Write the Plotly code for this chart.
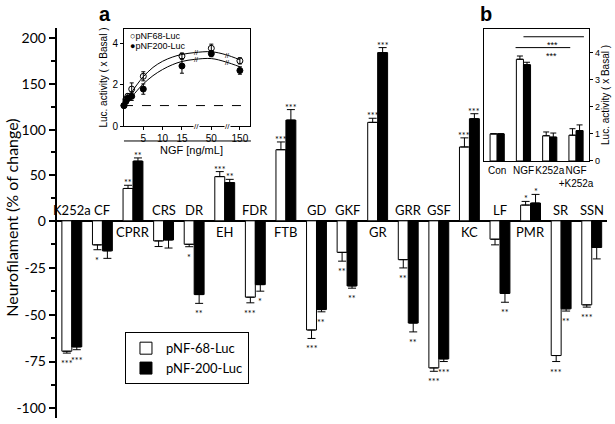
import numpy as np
import plotly.graph_objects as go

# ---------------- main panel data ----------------
categories = ["K252a", "CF", "CPRR", "CRS", "DR", "EH", "FDR", "FTB", "GD", "GKF",
              "GR", "GRR", "GSF", "KC", "LF", "PMR", "SR", "SSN"]
nf68 = [-69.5, -12.8, 35.5, -10.7, -12.5, 48.5, -40.7, 78, -58.2, -16.8,
        108, -20.7, -78.4, 81, -9.8, 17.3, -71.8, -44.8]
nf68_err = [1.0, 2.6, 3.5, 3.0, 1.3, 5.5, 3.0, 8.5, 4.5, 4.7,
            4.5, 4.4, 1.8, 10, 3.0, 4.0, 3.2, 1.2]
nf200 = [-67.2, -16, 65.5, -10.2, -39.3, 42, -34, 110.5, -47.3, -34.7,
         184.5, -54.5, -73.6, 112, -38.7, 19.5, -46.9, -14.2]
nf200_err = [1.5, 4, 3.5, 4.3, 4.7, 3.5, 3.5, 11.5, 1.2, 1.2,
             5.5, 4.7, 1.4, 5.5, 4.7, 9.5, 1.2, 6.1]
nf68_sig = ["***", "*", "**", "", "*", "***", "***", "***", "***", "**",
            "***", "**", "***", "***", "", "*", "***", "***"]
nf200_sig = ["***", "", "**", "", "**", "**", "*", "***", "**", "**",
             "***", "**", "***", "***", "**", "*", "**", ""]
main_major_ticks = [200, 150, 100, 50, 0, -25, -50, -75, -100]
main_minor_ticks = [175, 125, 75, 25, -12.5, -37.5, -62.5, -87.5]

# ---------------- inset a data ----------------
ngf_dose = [0, 0.5, 1, 2, 5, 15, 50, 150]
a68 = [1.0, 1.3, 1.45, 1.8, 2.42, 3.4, 3.78, 3.17]
a68_err = [0, 0.1, 0.12, 0.3, 0.22, 0.15, 0.2, 0.15]
a200 = [1.0, 1.2, 1.35, 1.45, 1.8, 2.92, 3.52, 2.7]
a200_err = [0, 0.1, 0.12, 0.2, 0.25, 0.35, 0.15, 0.18]
fit_dose = [0, 1, 2, 3.5, 5, 7.5, 10, 12.5, 15, 30, 50, 100, 150]
fit68 = [1.0, 1.35, 1.65, 2.05, 2.4, 2.85, 3.15, 3.35, 3.48, 3.57, 3.61, 3.47, 3.22]
fit200 = [1.0, 1.2, 1.42, 1.75, 2.05, 2.45, 2.75, 2.98, 3.14, 3.24, 3.28, 3.12, 2.88]
ngf_ticks = [5, 10, 15, 50, 150]
ngf_breaks = [32, 105]

# ---------------- inset b data ----------------
b_cats = ["Con", "NGF", "K252a", "NGF<br>+K252a"]
b68 = [1.0, 3.75, 0.93, 0.95]
b68_err = [0.0, 0.12, 0.14, 0.24]
b200 = [1.0, 3.55, 0.88, 1.12]
b200_err = [0.0, 0.09, 0.15, 0.21]
b_sig = [(1.0, 3.3, 4.58, 2.12), (0.7, 2.78, 4.18, 2.05)]  # (from, to, level, star pos)

# ---------------- scales ----------------
POS_SCALE = 0.486  # positive half of main axis is compressed


def sy(v):
    return v * POS_SCALE if v > 0 else v


# broken NGF axis: dose -> axis position
ngf_anchor_dose = [0, 15, 50, 150]
ngf_anchor_pos = [0, 15, 22.6, 30]


def ngf_pos(d):
    return float(np.interp(d, ngf_anchor_dose, ngf_anchor_pos))


MAIN_FONT = "Lato"
INSET_FONT = "Liberation Sans"

fig = go.Figure()
idx = list(range(len(categories)))
GROUP_HALF = 0.1625


def bar_trace(vals, errs, name, color):
    return go.Bar(
        x=idx, y=[sy(v) for v in vals], name=name,
        marker=dict(color=color, line=dict(color="black", width=1)),
        error_y=dict(type="data", symmetric=False,
                     array=[e * POS_SCALE if v > 0 else 0 for v, e in zip(vals, errs)],
                     arrayminus=[0 if v > 0 else e for v, e in zip(vals, errs)],
                     color="black", thickness=1, width=4),
        xaxis="x", yaxis="y")


fig.add_trace(bar_trace(nf68, nf68_err, "pNF-68-Luc", "white"))
fig.add_trace(bar_trace(nf200, nf200_err, "pNF-200-Luc", "black"))

annotations = []
for vals, errs, sigs, off in [(nf68, nf68_err, nf68_sig, -GROUP_HALF),
                              (nf200, nf200_err, nf200_sig, GROUP_HALF)]:
    for i, (v, e, s) in enumerate(zip(vals, errs, sigs)):
        if not s:
            continue
        if v > 0:
            annotations.append(dict(x=i + off, y=sy(v + e), xref="x", yref="y", text=s,
                                    showarrow=False, yanchor="bottom", yshift=-5,
                                    font=dict(family=MAIN_FONT, size=9, color="black")))
        else:
            annotations.append(dict(x=i + off, y=v - e, xref="x", yref="y", text=s,
                                    showarrow=False, yanchor="top", yshift=-3,
                                    font=dict(family=MAIN_FONT, size=9, color="black")))

# category labels next to zero line
for i, (c, v1, v2) in enumerate(zip(categories, nf68, nf200)):
    neg = (v1 + v2) < 0
    annotations.append(dict(x=i, y=0, xref="x", yref="y", text=c, showarrow=False,
                            yshift=11 if neg else -11,
                            font=dict(family=MAIN_FONT, size=13, color="black")))

# ---------------- inset a traces ----------------
for vals, errs, sym, name in [(a68, a68_err, "circle-open", "pNF68-Luc"),
                              (a200, a200_err, "circle", "pNF200-Luc")]:
    fig.add_trace(go.Scatter(
        x=[ngf_pos(d) for d in ngf_dose], y=vals, mode="markers", showlegend=False,
        marker=dict(symbol=sym, size=6, color="black", line=dict(color="black", width=1)),
        error_y=dict(type="data", array=errs, color="black", thickness=1, width=2),
        cliponaxis=False, xaxis="x2", yaxis="y2"))
for fit in [fit68, fit200]:
    fig.add_trace(go.Scatter(
        x=[ngf_pos(d) for d in fit_dose], y=fit, mode="lines", showlegend=False,
        line=dict(color="black", width=1, shape="spline"), xaxis="x2", yaxis="y2"))

for bd in ngf_breaks:
    bx = ngf_pos(bd)
    for fit in [fit68, fit200]:
        annotations.append(dict(x=bx, y=float(np.interp(bd, fit_dose, fit)), xref="x2", yref="y2",
                                text="//", showarrow=False, borderpad=0,
                                font=dict(family=INSET_FONT, size=7, color="black")))
    annotations.append(dict(x=bx, y=0, xref="x2", yref="y2", text="//", showarrow=False,
                            font=dict(family=INSET_FONT, size=8, color="black"), bgcolor="white",
                            borderpad=0))

# ---------------- inset b traces ----------------
BW = 0.27
for vals, errs, color, off in [(b68, b68_err, "white", -BW), (b200, b200_err, "black", 0)]:
    fig.add_trace(go.Bar(
        x=list(range(len(b_cats))), y=vals, width=BW, offset=off, showlegend=False,
        marker=dict(color=color, line=dict(color="black", width=1)),
        error_y=dict(type="data", symmetric=False, array=errs, arrayminus=[0] * len(errs),
                     color="black", thickness=1, width=3),
        xaxis="x3", yaxis="y3"))

shapes = []
for x0, x1, lvl, sx in b_sig:
    shapes.append(dict(type="line", xref="x3", yref="y3", x0=x0, x1=x1, y0=lvl, y1=lvl,
                       line=dict(color="black", width=1)))
    annotations.append(dict(x=sx, y=lvl, xref="x3", yref="y3", text="***", showarrow=False,
                            yanchor="top", yshift=-1,
                            font=dict(family=INSET_FONT, size=9, color="black")))

# inset a decorations
shapes.append(dict(type="line", xref="x2 domain", yref="y2", x0=0, x1=1, y0=1, y1=1,
                   line=dict(color="black", width=1, dash="dash")))
shapes.append(dict(type="line", xref="paper", yref="paper", x0=125 / 615, x1=253 / 615,
                   y0=1 - 143 / 424, y1=1 - 143 / 424, line=dict(color="black", width=1)))

annotations += [
    dict(x=193 / 615, y=1 - 152 / 424, xref="paper", yref="paper", text="NGF [ng/mL]",
         xanchor="center", yanchor="middle",
         showarrow=False, font=dict(family=INSET_FONT, size=11, color="black")),
    dict(x=129 / 615, y=1 - 37 / 424, xref="paper", yref="paper", text="○pNF68-Luc",
         xanchor="left", yanchor="middle", showarrow=False,
         font=dict(family=INSET_FONT, size=9, color="black")),
    dict(x=129 / 615, y=1 - 47 / 424, xref="paper", yref="paper", text="●pNF200-Luc",
         xanchor="left", yanchor="middle", showarrow=False,
         font=dict(family=INSET_FONT, size=9, color="black")),
    dict(x=106 / 615, y=1 - 14 / 424, xref="paper", yref="paper", text="<b>a</b>",
         xanchor="center", yanchor="middle",
         showarrow=False, font=dict(family=INSET_FONT, size=20, color="black")),
    dict(x=490 / 615, y=1 - 14 / 424, xref="paper", yref="paper", text="<b>b</b>",
         xanchor="center", yanchor="middle",
         showarrow=False, font=dict(family=INSET_FONT, size=20, color="black")),
    dict(x=12 / 615, y=1 - 221 / 424, xref="paper", yref="paper",
         text="Neurofilament (% of change)", textangle=-90, showarrow=False,
         xanchor="center", yanchor="middle",
         font=dict(family=MAIN_FONT, size=16, color="black")),
]

fig.update_layout(
    width=615, height=424,
    margin=dict(l=0, r=0, t=0, b=0),
    plot_bgcolor="white", paper_bgcolor="white",
    barmode="group", bargap=0.35, bargroupgap=0,
    annotations=annotations, shapes=shapes,
    legend=dict(x=126 / 615, y=1 - 337 / 424, xanchor="left", yanchor="top",
                bordercolor="black", borderwidth=1, bgcolor="white",
                font=dict(family=MAIN_FONT, size=13, color="black"), tracegroupgap=0),
    xaxis=dict(domain=[57 / 615, 612 / 615], range=[-0.5, 17.5], showticklabels=False,
               ticks="", showline=False, zeroline=False, showgrid=False, anchor="y"),
    yaxis=dict(domain=[0, 396 / 424], range=[-105.1, 103],
               tickvals=[sy(t) for t in main_major_ticks],
               ticktext=[str(t) for t in main_major_ticks],
               ticks="outside", ticklen=6, tickwidth=1.5, tickcolor="black",
               showline=True, linewidth=1.5, linecolor="black",
               zeroline=True, zerolinecolor="black", zerolinewidth=1.5, showgrid=False,
               minor=dict(tickvals=[sy(t) for t in main_minor_ticks], ticks="outside",
                          ticklen=4, tickwidth=1.5, tickcolor="black"),
               tickfont=dict(family=MAIN_FONT, size=14, color="black"), anchor="x"),
    xaxis2=dict(domain=[125 / 615, 252 / 615], range=[0, 32.6], anchor="y2",
                tickvals=[ngf_pos(t) for t in ngf_ticks], ticktext=[str(t) for t in ngf_ticks],
                ticks="outside", ticklen=3, tickcolor="black", showline=True, mirror=True,
                linecolor="black", linewidth=1, zeroline=False, showgrid=False, tickangle=0,
                tickfont=dict(family=INSET_FONT, size=10, color="black")),
    yaxis2=dict(domain=[1 - 128 / 424, 1 - 29.3 / 424], range=[0, 4.72], anchor="x2",
                tickvals=[0, 2, 4], ticks="outside", ticklen=3, tickcolor="black",
                showline=True, mirror=True, linecolor="black", linewidth=1,
                zeroline=False, showgrid=False,
                tickfont=dict(family=INSET_FONT, size=10, color="black"),
                title=dict(text="Luc. activity ( x Basal )", standoff=2,
                           font=dict(family=INSET_FONT, size=10, color="black"))),
    xaxis3=dict(domain=[488 / 615, 594 / 615], range=[-0.5, 3.5], anchor="y3",
                tickvals=list(range(len(b_cats))), ticktext=b_cats, ticks="", tickangle=0,
                showline=True, mirror=True, linecolor="black", linewidth=1,
                zeroline=False, showgrid=False,
                tickfont=dict(family=INSET_FONT, size=10, color="black")),
    yaxis3=dict(domain=[1 - 163.3 / 424, 1 - 29.3 / 424], range=[0, 4.87], anchor="x3",
                side="right", tickvals=[0, 1, 2, 3, 4], ticks="outside", ticklen=3,
                tickcolor="black", showline=True, mirror=True, linecolor="black", linewidth=1,
                zeroline=False, showgrid=False,
                tickfont=dict(family=INSET_FONT, size=9, color="black"),
                title=dict(text="Luc. activity ( x Basal )", standoff=2,
                           font=dict(family=INSET_FONT, size=10, color="black"))),
)

fig.write_html("out.html", config={"displayModeBar": False},
               post_script="document.body.style.margin='0';document.body.style.padding='0';")
